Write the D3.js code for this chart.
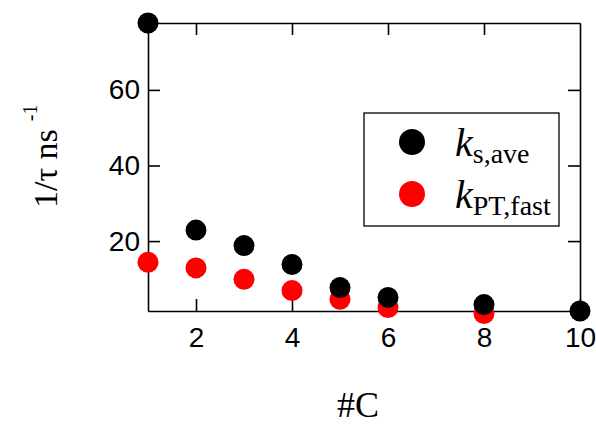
<!DOCTYPE html>
<html>
<head>
<meta charset="utf-8">
<script src="https://cdn.jsdelivr.net/npm/d3@7"></script>
<style>
  html, body { margin: 0; padding: 0; background: #fff; }
  svg { display: block; }
</style>
</head>
<body>
<svg width="596" height="425"></svg>
<script>
// данные
const carbons = [1, 2, 3, 4, 5, 6, 8, 10];
const kSave = [77.7, 22.9, 18.8, 13.8, 7.7, 5.1, 3.2, 1.5];
const carbonsPT = [1, 2, 3, 4, 5, 6, 8];
const kPTfast = [14.4, 12.9, 9.9, 6.9, 4.6, 2.4, 0.85];

const xTicks = [2, 4, 6, 8, 10];
const yTicks = [20, 40, 60];

const svg = d3.select("svg");

const area = { left: 148, right: 580, top: 23, bottom: 311 };

const scX = d3.scaleLinear().domain([1, 10]).range([area.left, area.right]);
const scY = d3.scaleLinear().domain([1.5, 77.7]).range([area.bottom, area.top]);

const tickFont = "'Liberation Sans', Arial, sans-serif";
const serif = "'Liberation Serif', 'Times New Roman', serif";

// оси: тики внутрь, подписи только снизу и слева
const gBottom = svg.append("g")
    .attr("transform", `translate(0, ${area.bottom})`)
    .call(d3.axisBottom(scX).tickValues(xTicks).tickSize(-12).tickPadding(16).tickSizeOuter(0));
const gTop = svg.append("g")
    .attr("transform", `translate(0, ${area.top})`)
    .call(d3.axisTop(scX).tickValues(xTicks.slice(0, 4)).tickSize(-12).tickFormat("").tickSizeOuter(0));
const gLeft = svg.append("g")
    .attr("transform", `translate(${area.left}, 0)`)
    .call(d3.axisLeft(scY).tickValues(yTicks).tickSize(-12).tickPadding(8).tickSizeOuter(0));
const gRight = svg.append("g")
    .attr("transform", `translate(${area.right}, 0)`)
    .call(d3.axisRight(scY).tickValues(yTicks).tickSize(-12).tickFormat("").tickSizeOuter(0));

[gBottom, gTop, gLeft, gRight].forEach(g => {
    g.selectAll("path, line").attr("stroke", "#000").attr("stroke-width", 1.6);
    g.selectAll("text").attr("fill", "#000")
        .style("font-family", tickFont).style("font-size", "28px");
});

// точки: сначала красные, потом чёрные сверху
svg.append("g").selectAll("circle")
    .data(carbonsPT.map((c, i) => [c, kPTfast[i]]))
    .enter()
    .append("circle")
    .attr("cx", d => scX(d[0]))
    .attr("cy", d => scY(d[1]))
    .attr("r", 10.5)
    .style("fill", "#ff0000");

svg.append("g").selectAll("circle")
    .data(carbons.map((c, i) => [c, kSave[i]]))
    .enter()
    .append("circle")
    .attr("cx", d => scX(d[0]))
    .attr("cy", d => scY(d[1]))
    .attr("r", 10.5)
    .style("fill", "#000");

// подпись оси X
svg.append("text")
    .attr("x", 358).attr("y", 417)
    .attr("text-anchor", "middle")
    .style("font-family", serif).style("font-size", "36px")
    .text("#C");

// подпись оси Y
const yLab = svg.append("text")
    .attr("transform", "translate(57, 208) rotate(-90)")
    .style("font-family", serif).style("font-size", "34px");
yLab.append("tspan").text("1/τ ns");
yLab.append("tspan").attr("dx", 8).attr("dy", -20).style("font-size", "20px").text("-1");

// легенда
const legend = svg.append("g");
legend.append("rect")
    .attr("x", 364).attr("y", 113).attr("width", 195).attr("height", 113)
    .attr("fill", "#fff").attr("stroke", "#000").attr("stroke-width", 1.3);

const legItems = [
    { color: "#000", main: "k", sub: "s,ave", y: 142 },
    { color: "#ff0000", main: "k", sub: "PT,fast", y: 194 }
];
legItems.forEach(it => {
    legend.append("circle").attr("cx", 412).attr("cy", it.y).attr("r", 13).style("fill", it.color);
    const t = legend.append("text")
        .attr("x", 455).attr("y", it.y + 14)
        .style("font-family", serif).style("font-size", "40px");
    t.append("tspan").style("font-style", "italic").text(it.main);
    t.append("tspan").attr("dy", 7).style("font-size", "28px").text(it.sub);
});
</script>
</body>
</html>
